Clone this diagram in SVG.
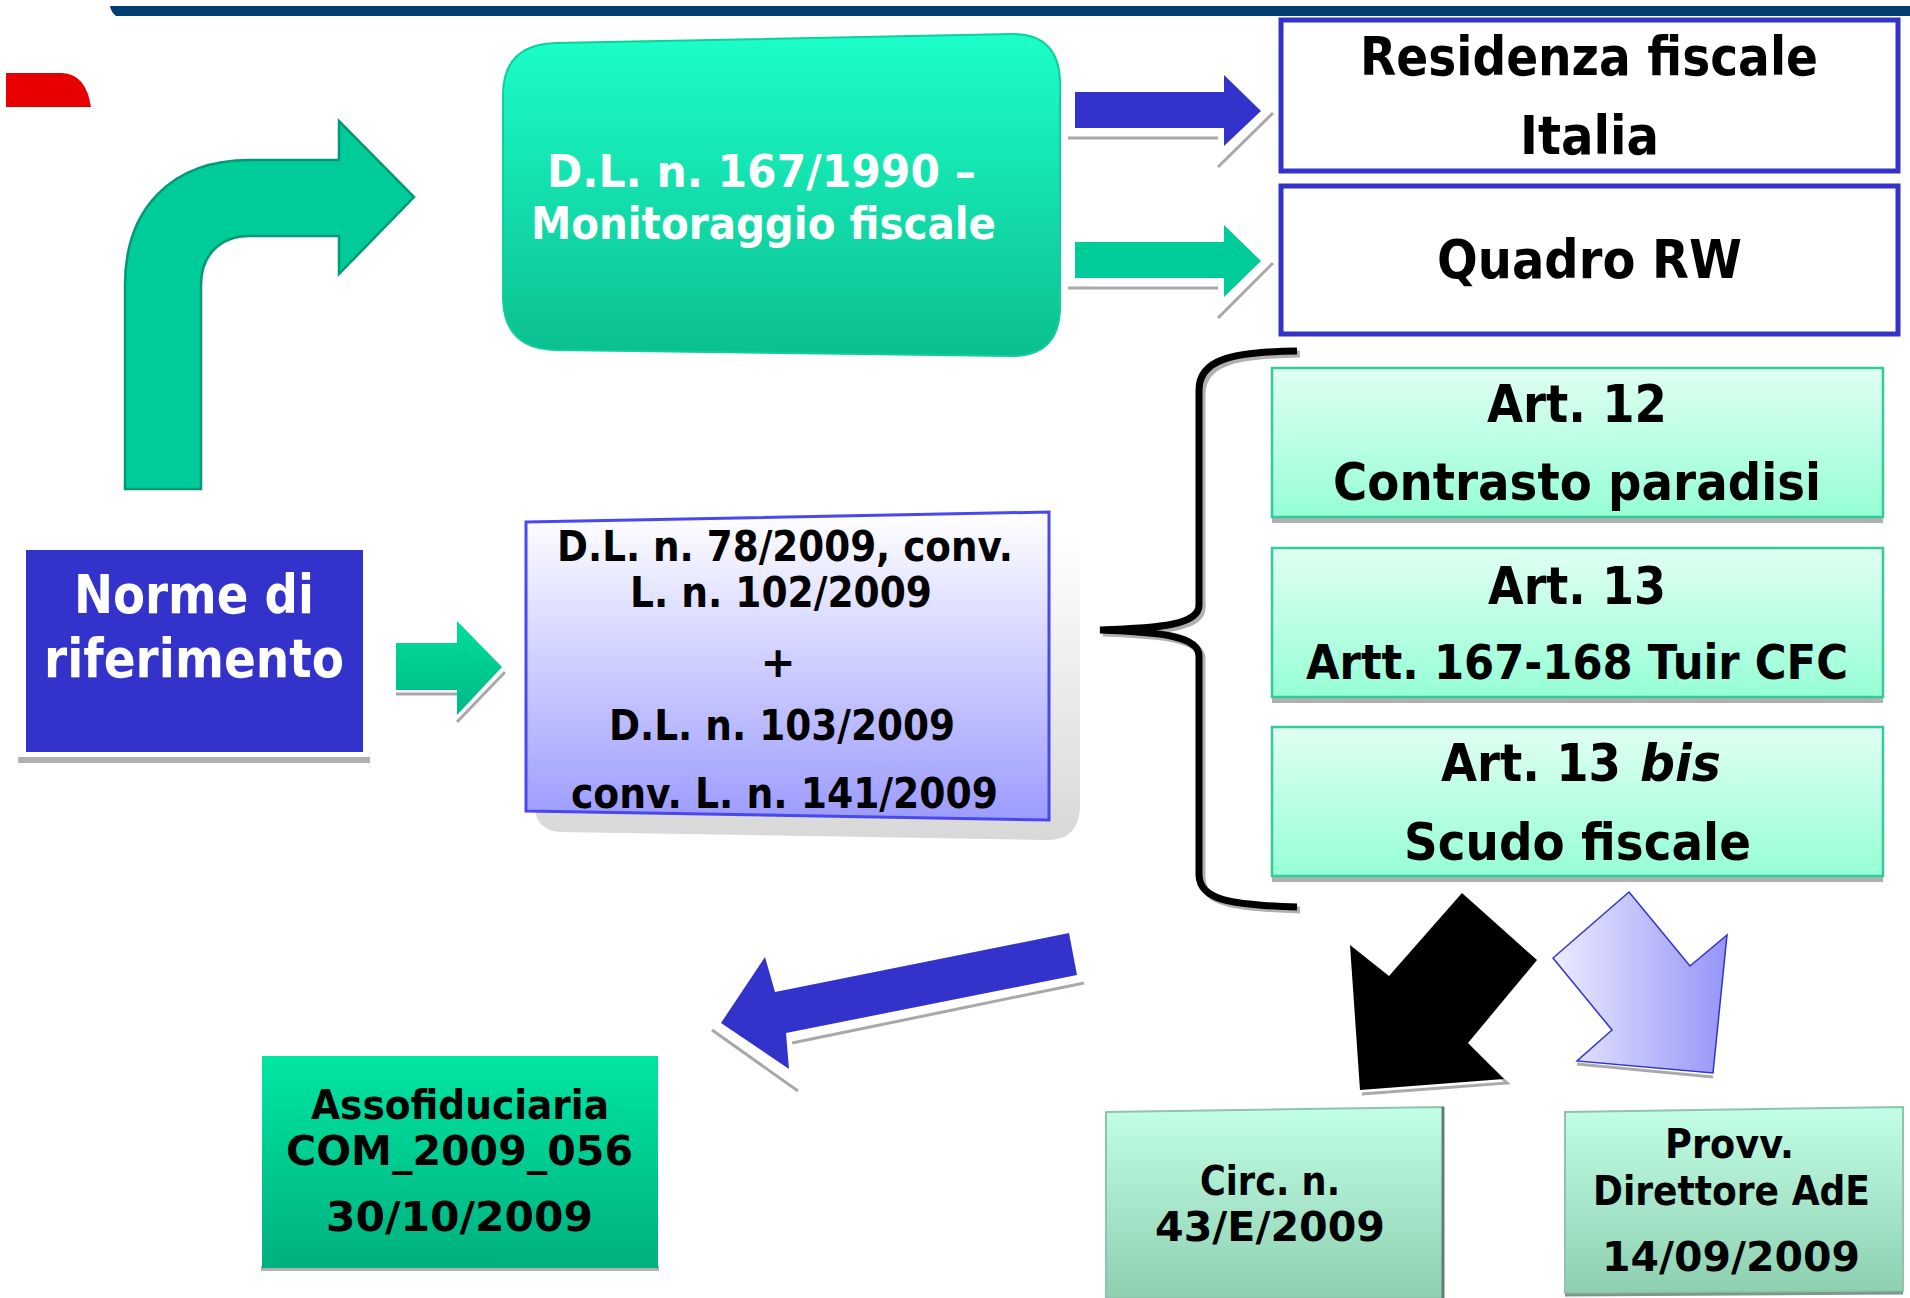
<svg xmlns="http://www.w3.org/2000/svg" width="1910" height="1298" viewBox="0 0 1910 1298">
<style>
.t{font-family:"DejaVu Sans",Verdana,sans-serif;font-weight:bold;}
.b{fill:#000;}
.w{fill:#fff;}
.sh{fill:none;stroke:#a8a8a8;stroke-width:3;}
.shr{fill:#b0b0b0;}
.art{fill:url(#gArt);stroke:#33cc99;stroke-width:2.5;}
.rbox{fill:#fff;stroke:#3333cc;stroke-width:5;}
</style>
<defs>
<linearGradient id="gMain" x1="0" y1="0" x2="0" y2="1"><stop offset="0" stop-color="#1cffc9"/><stop offset="1" stop-color="#0bbf8f"/></linearGradient>
<linearGradient id="gArt" x1="0" y1="0" x2="0" y2="1"><stop offset="0" stop-color="#e0fff2"/><stop offset="1" stop-color="#96ffd6"/></linearGradient>
<linearGradient id="gLav" x1="0" y1="0" x2="0" y2="1"><stop offset="0" stop-color="#ffffff"/><stop offset="1" stop-color="#9c9cff"/></linearGradient>
<linearGradient id="gLavA" x1="0" y1="0" x2="1" y2="0"><stop offset="0" stop-color="#ececff"/><stop offset="1" stop-color="#9595f8"/></linearGradient>
<linearGradient id="gAsso" x1="0" y1="0" x2="0" y2="1"><stop offset="0" stop-color="#00e6a2"/><stop offset="1" stop-color="#00b07f"/></linearGradient>
<linearGradient id="gCirc" x1="0" y1="0" x2="0" y2="1"><stop offset="0" stop-color="#c2ffe6"/><stop offset="1" stop-color="#8ecfb0"/></linearGradient>
<linearGradient id="gSmall" x1="0" y1="0" x2="0" y2="1"><stop offset="0" stop-color="#00dd9c"/><stop offset="1" stop-color="#00b886"/></linearGradient>
<linearGradient id="gShadow" x1="0" y1="0" x2="0" y2="1"><stop offset="0" stop-color="#ffffff"/><stop offset="1" stop-color="#d8d8d8"/></linearGradient>
</defs>

<rect width="1910" height="1298" fill="#fff"/>

<!-- top band and red tab -->
<path d="M110,6 L1910,6 L1910,16 L116,16 Q111,12 110,6 Z" fill="#003d73"/>
<path d="M6,73 L62,73 Q86,74 91,107 L6,107 Z" fill="#e60000"/>

<g id="connectors">
  <!-- curved green arrow -->
  <path d="M125,489 L125,285 C125,210 170,160 250,160 L339,160 L339,121 L414,197 L339,274 L339,236 L250,236 C220,236 201,255 201,285 L201,489 Z" fill="#00cc99" stroke="#009977" stroke-width="2.5"/>
  <!-- blue arrow to Residenza -->
  <path d="M1068,138 L1218,138 M1218,167 L1273,113" class="sh"/>
  <path d="M1075,92 L1224,92 L1224,75 L1261,111 L1224,146 L1224,128 L1075,128 Z" fill="#3333cc"/>
  <!-- green arrow to Quadro RW -->
  <path d="M1068,288 L1218,288 M1218,318 L1273,263" class="sh"/>
  <path d="M1075,242 L1224,242 L1224,225 L1261,261 L1224,297 L1224,278 L1075,278 Z" fill="#00cc99"/>
  <!-- small green arrow -->
  <path d="M396,694 L457,694 M457,722 L505,672" class="sh"/>
  <path d="M396,643 L457,643 L457,621 L502,667 L457,715 L457,690 L396,690 Z" fill="url(#gSmall)"/>
  <!-- brace -->
  <path d="M1300,354 C1233,355 1203,363 1202,393 L1202,608 C1202,628 1163,631 1103,633 C1163,635 1202,639 1202,659 L1202,878 C1203,903 1233,908 1300,910" fill="none" stroke="#b0b0b0" stroke-width="7"/>
  <path d="M1297,351 C1230,352 1199,360 1199,390 L1199,605 C1199,625 1160,628 1100,630 C1160,632 1199,636 1199,656 L1199,875 C1200,900 1230,905 1297,907" fill="none" stroke="#000" stroke-width="7"/>
  <!-- blue arrow to Assofiduciaria -->
  <path d="M1084,983 L792,1043 M712,1030 L798,1091" class="sh"/>
  <path d="M1069,933 L1077,975 L786,1033 L789,1069 L721,1023 L765,957 L775,992 Z" fill="#3333cc"/>
  <!-- black arrow -->
  <path d="M1468,1047 L1507,1083 L1362,1094" fill="none" stroke="#aaa" stroke-width="3"/>
  <path d="M1462,893 L1537,960 L1468,1043 L1504,1079 L1360,1090 L1350,945 L1389,976 Z" fill="#000"/>
  <!-- lavender arrow -->
  <path d="M1577,1064 L1713,1077" fill="none" stroke="#aaa" stroke-width="3"/>
  <path d="M1629,892 L1690,966 L1727,935 L1713,1073 L1577,1061 L1612,1030 L1553,958 Z" fill="url(#gLavA)" stroke="#3333cc" stroke-width="1.5"/>
</g>

<g id="node-monitoraggio">
  <path d="M503,95 Q503,45 555,43 L1012,34 Q1059,34 1060,82 L1060,308 Q1059,356 1012,356 L555,350 Q505,349 503,300 Z" fill="url(#gMain)" stroke="#0fcf9c" stroke-width="2"/>
  <text class="t w" x="547" y="187" font-size="44" textLength="429" lengthAdjust="spacingAndGlyphs">D.L. n. 167/1990 –</text>
  <text class="t w" x="531" y="239" font-size="44" textLength="465" lengthAdjust="spacingAndGlyphs">Monitoraggio fiscale</text>
</g>

<g id="node-residenza">
  <rect class="rbox" x="1281" y="20" width="617" height="151"/>
  <text class="t b" x="1360" y="75" font-size="53" textLength="458" lengthAdjust="spacingAndGlyphs">Residenza fiscale</text>
  <text class="t b" x="1520" y="154" font-size="53" textLength="139" lengthAdjust="spacingAndGlyphs">Italia</text>
</g>

<g id="node-quadro">
  <rect class="rbox" x="1281" y="186" width="617" height="148"/>
  <text class="t b" x="1437" y="278" font-size="53" textLength="305" lengthAdjust="spacingAndGlyphs">Quadro RW</text>
</g>

<g id="node-norme">
  <rect class="shr" x="18" y="757" width="352" height="6"/>
  <rect x="26" y="550" width="337" height="202" fill="#3333cc"/>
  <text class="t w" x="74" y="613" font-size="54" textLength="240" lengthAdjust="spacingAndGlyphs">Norme di</text>
  <text class="t w" x="44" y="677" font-size="54" textLength="300" lengthAdjust="spacingAndGlyphs">riferimento</text>
</g>

<g id="node-dl78">
  <path d="M545,545 L1055,532 Q1080,532 1080,565 L1080,808 Q1078,840 1048,840 L560,832 Q540,830 536,815 Z" fill="url(#gShadow)"/>
  <path d="M526,522 L1049,512 L1049,820 L526,811 Z" fill="url(#gLav)" stroke="#4848ee" stroke-width="3"/>
  <text class="t b" x="557" y="561" font-size="42" textLength="456" lengthAdjust="spacingAndGlyphs">D.L. n. 78/2009, conv.</text>
  <text class="t b" x="630" y="607" font-size="42" textLength="302" lengthAdjust="spacingAndGlyphs">L. n. 102/2009</text>
  <text class="t b" x="778" y="677" font-size="42" text-anchor="middle">+</text>
  <text class="t b" x="609" y="740" font-size="42" textLength="346" lengthAdjust="spacingAndGlyphs">D.L. n. 103/2009</text>
  <text class="t b" x="571" y="808" font-size="42" textLength="427" lengthAdjust="spacingAndGlyphs">conv. L. n. 141/2009</text>
</g>

<g id="node-art12">
  <rect class="shr" x="1272" y="518" width="611" height="5"/>
  <rect class="art" x="1272" y="368" width="611" height="149"/>
  <text class="t b" x="1487" y="422" font-size="52" textLength="180" lengthAdjust="spacingAndGlyphs">Art. 12</text>
  <text class="t b" x="1333" y="500" font-size="52" textLength="488" lengthAdjust="spacingAndGlyphs">Contrasto paradisi</text>
</g>

<g id="node-art13">
  <rect class="shr" x="1272" y="698" width="611" height="5"/>
  <rect class="art" x="1272" y="548" width="611" height="149"/>
  <text class="t b" x="1488" y="604" font-size="52" textLength="178" lengthAdjust="spacingAndGlyphs">Art. 13</text>
  <text class="t b" x="1577" y="679" font-size="48" text-anchor="middle" textLength="542" lengthAdjust="spacingAndGlyphs">Artt. 167-168 Tuir CFC</text>
</g>

<g id="node-art13bis">
  <rect class="shr" x="1272" y="877" width="611" height="5"/>
  <rect class="art" x="1272" y="727" width="611" height="149"/>
  <text class="t b" x="1441" y="781" font-size="52" textLength="180" lengthAdjust="spacingAndGlyphs">Art. 13</text>
  <text class="t b" x="1640" y="781" font-size="52" font-style="italic" textLength="81" lengthAdjust="spacingAndGlyphs">bis</text>
  <text class="t b" x="1404" y="860" font-size="52" textLength="347" lengthAdjust="spacingAndGlyphs">Scudo fiscale</text>
</g>

<g id="node-assofiduciaria">
  <rect class="shr" x="261" y="1266" width="398" height="5"/>
  <rect x="262" y="1056" width="396" height="212" fill="url(#gAsso)"/>
  <text class="t b" x="311" y="1119" font-size="40" textLength="298" lengthAdjust="spacingAndGlyphs">Assofiduciaria</text>
  <text class="t b" x="286" y="1165" font-size="40" textLength="347" lengthAdjust="spacingAndGlyphs">COM_2009_056</text>
  <text class="t b" x="326" y="1231" font-size="40" textLength="267" lengthAdjust="spacingAndGlyphs">30/10/2009</text>
</g>

<g id="node-circ">
  <path d="M1106,1112 L1443,1107 L1443,1298 L1106,1298 Z" fill="url(#gCirc)" stroke="#8fc4ac" stroke-width="2"/>
  <path d="M1443,1107 L1443,1298" stroke="#5f7f70" stroke-width="3"/>
  <text class="t b" x="1200" y="1195" font-size="40" textLength="140" lengthAdjust="spacingAndGlyphs">Circ. n.</text>
  <text class="t b" x="1155" y="1241" font-size="40" textLength="230" lengthAdjust="spacingAndGlyphs">43/E/2009</text>
</g>

<g id="node-provv">
  <path d="M1565,1112 L1903,1107 L1903,1291 L1565,1293 Z" fill="url(#gCirc)" stroke="#8fc4ac" stroke-width="2"/>
  <path d="M1565,1295 L1903,1293" stroke="#7a9a8a" stroke-width="3"/>
  <text class="t b" x="1665" y="1158" font-size="40" textLength="129" lengthAdjust="spacingAndGlyphs">Provv.</text>
  <text class="t b" x="1593" y="1205" font-size="40" textLength="277" lengthAdjust="spacingAndGlyphs">Direttore AdE</text>
  <text class="t b" x="1602" y="1271" font-size="40" textLength="258" lengthAdjust="spacingAndGlyphs">14/09/2009</text>
</g>
</svg>
